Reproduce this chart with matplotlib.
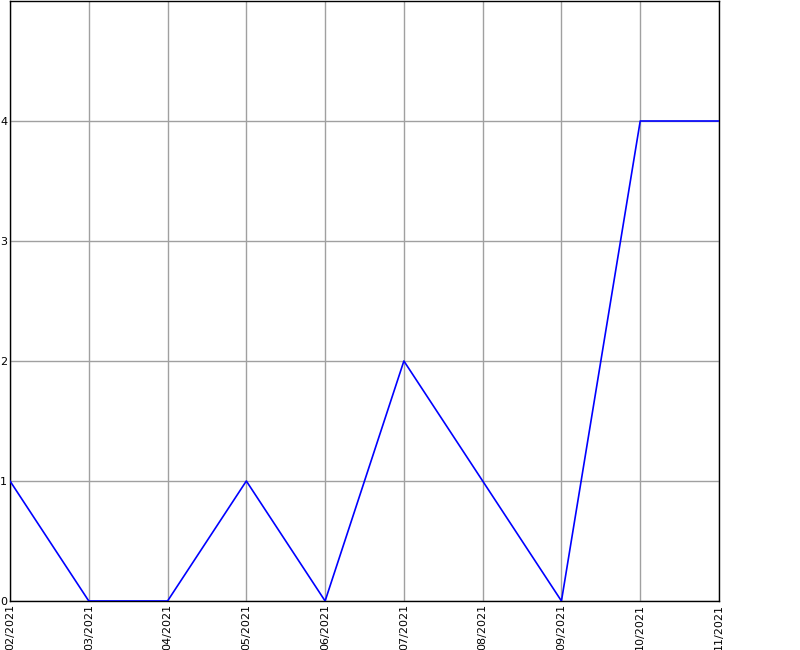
import matplotlib
matplotlib.use("Agg")
import matplotlib.pyplot as plt

months = ["02/2021", "03/2021", "04/2021", "05/2021", "06/2021",
          "07/2021", "08/2021", "09/2021", "10/2021", "11/2021"]
counts = [1, 0, 0, 1, 0, 2, 1, 0, 4, 4]
yticks = [0, 1, 2, 3, 4]

fig = plt.figure(figsize=(8, 6.5), dpi=100)
ax = fig.add_axes([10 / 800, 1 - 601 / 650, 709 / 800, 600 / 650])

x = list(range(len(months)))
ax.plot(x, counts, color="#0000ff", linewidth=1.2, zorder=3)

ax.set_xlim(0, len(months) - 1)
ax.set_ylim(0, 5)
ax.set_xticks(x)
ax.set_xticklabels(months, rotation=90, fontsize=8)
ax.set_yticks(yticks)
ax.set_yticklabels([str(v) for v in yticks], fontsize=8)
ax.tick_params(length=0, pad=2)
ax.grid(True, color="#a0a0a0", linewidth=1)
for s in ax.spines.values():
    s.set_color("black")
    s.set_linewidth(1)

fig.savefig("out.png", dpi=100)
